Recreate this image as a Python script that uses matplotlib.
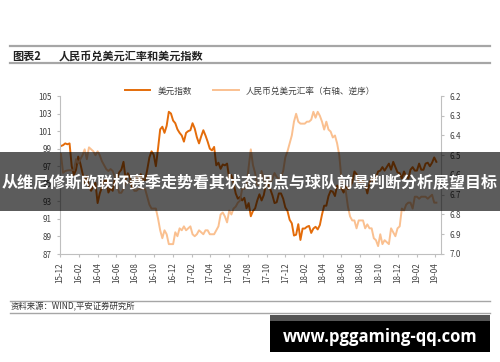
import numpy as np
import pandas as pd
import matplotlib
matplotlib.use("Agg")
import matplotlib.pyplot as plt
from matplotlib.patches import Rectangle
from matplotlib.lines import Line2D

plt.rcParams['font.family'] = ['Noto Sans CJK SC', 'DejaVu Sans']

# weekly series
dxy_2016 = [99.3, 99.4, 99.6, 99.5, 99.6, 97.0, 96.0, 96.6, 98.1, 97.3, 96.2, 95.1, 95.9,
            94.6, 94.2, 94.7, 95.1, 92.8, 93.9, 94.6, 95.3, 95.5, 94.0, 94.5, 94.2, 95.6,
            95.6, 96.3, 96.6, 97.5, 95.5, 96.2, 95.7, 94.5, 95.5, 95.8, 95.3, 96.1, 95.4,
            95.4, 96.6, 98.0, 98.7, 98.3, 97.0, 99.0, 101.2, 101.5, 100.8, 101.6, 103.2,
            103.0, 102.2]
dxy_2017 = [101.9, 101.2, 100.8, 100.5, 99.8, 100.8, 101.0, 101.1, 101.9, 101.3, 100.3,
            99.6, 100.4, 101.1, 100.5, 99.8, 99.0, 98.8, 99.2, 97.1, 97.4, 96.7, 97.2,
            97.1, 97.3, 95.6, 96.0, 95.1, 93.9, 93.3, 93.5, 93.1, 93.4, 92.2, 92.8, 91.3,
            91.9, 92.2, 93.1, 93.8, 93.1, 93.7, 94.9, 94.9, 94.4, 93.7, 92.8, 92.9, 93.9,
            93.9, 93.3, 92.3]
dxy_2018 = [91.9, 90.9, 90.5, 89.1, 89.2, 90.4, 88.6, 89.9, 89.9, 90.1, 90.2, 89.4, 89.9,
            90.1, 89.8, 90.3, 91.5, 92.5, 92.5, 93.6, 94.2, 94.1, 93.6, 94.8, 94.5, 94.5,
            94.0, 94.7, 94.4, 94.6, 95.2, 96.4, 96.1, 95.1, 95.1, 95.4, 94.9, 93.9, 95.1,
            95.6, 95.2, 95.7, 96.4, 96.5, 96.9, 96.5, 96.9, 97.3, 96.6, 97.5, 96.9, 96.3]
dxy_2019 = [96.2, 95.6, 96.4, 95.8, 95.6, 96.6, 96.9, 96.5, 96.5, 97.3, 96.6, 96.6, 97.3,
            97.4, 97.0, 97.4, 98.0, 97.5]

cny_2016 = [6.494, 6.589, 6.580, 6.577, 6.576, 6.576, 6.576, 6.520, 6.540, 6.520, 6.500,
            6.470, 6.520, 6.460, 6.470, 6.480, 6.500, 6.480, 6.500, 6.530, 6.550, 6.570,
            6.580, 6.570, 6.580, 6.610, 6.650, 6.690, 6.690, 6.670, 6.640, 6.640, 6.630,
            6.630, 6.680, 6.680, 6.670, 6.670, 6.670, 6.670, 6.710, 6.750, 6.770, 6.770,
            6.770, 6.820, 6.880, 6.920, 6.880, 6.900, 6.950, 6.950, 6.950]
cny_2017 = [6.890, 6.910, 6.870, 6.880, 6.860, 6.880, 6.870, 6.860, 6.900, 6.910, 6.900,
            6.880, 6.890, 6.900, 6.880, 6.880, 6.900, 6.900, 6.900, 6.880, 6.860, 6.800,
            6.790, 6.810, 6.840, 6.780, 6.800, 6.770, 6.760, 6.740, 6.730, 6.670, 6.670,
            6.660, 6.560, 6.470, 6.550, 6.590, 6.650, 6.650, 6.580, 6.620, 6.650, 6.610,
            6.640, 6.620, 6.590, 6.610, 6.620, 6.610, 6.580, 6.510]
cny_2018 = [6.480, 6.440, 6.400, 6.330, 6.290, 6.330, 6.340, 6.340, 6.340, 6.330, 6.330,
            6.320, 6.280, 6.310, 6.280, 6.300, 6.330, 6.370, 6.330, 6.370, 6.380, 6.410,
            6.400, 6.440, 6.500, 6.620, 6.650, 6.680, 6.760, 6.810, 6.830, 6.830, 6.870,
            6.830, 6.830, 6.830, 6.870, 6.850, 6.870, 6.870, 6.920, 6.930, 6.960, 6.900,
            6.950, 6.930, 6.940, 6.950, 6.870, 6.890, 6.910, 6.870]
cny_2019 = [6.860, 6.770, 6.780, 6.750, 6.740, 6.740, 6.770, 6.710, 6.710, 6.720, 6.710,
            6.710, 6.710, 6.720, 6.710, 6.700, 6.740, 6.740]

dxy = dxy_2016 + dxy_2017 + dxy_2018 + dxy_2019
cny = cny_2016 + cny_2017 + cny_2018 + cny_2019
dates = pd.date_range('2015-12-04', periods=len(dxy), freq='7D')

tick_dates = pd.date_range('2015-12-01', '2019-04-01', freq='2MS')
tick_labels = [d.strftime('%y-%m') for d in tick_dates]

dark = '#E46C0A'
light = '#FAC090'
grey = '#BFBFBF'
txt = '#404040'

fig = plt.figure(figsize=(5, 3.62), dpi=100)

# header
fig.add_artist(Line2D([0.02, 0.98], [1 - 46/362] * 2, color='#A6A6A6', lw=1.6))
fig.add_artist(Line2D([0.02, 0.98], [1 - 63/362] * 2, color='#A6A6A6', lw=1.6))
fig.text(0.024, 1 - 56/362, '图表2', fontsize=8, fontweight='bold', va='center', color='#222222')
fig.text(0.118, 1 - 56/362, '人民币兑美元汇率和美元指数', fontsize=8, fontweight='bold',
         va='center', color='#222222')

ax = fig.add_axes([60/500, 1 - 254/362, 381/500, 158/362])
ax2 = ax.twinx()

l1, = ax.plot(dates, dxy, color=dark, lw=1.4)
l2, = ax2.plot(dates, cny, color=light, lw=1.4)

ax.set_ylim(87, 105)
ax.set_yticks(np.arange(87, 106, 2))
ax2.set_ylim(7.0, 6.2)
ax2.set_yticks(np.arange(6.2, 7.01, 0.1))
ax2.set_yticklabels([f'{v:.1f}' for v in np.arange(6.2, 7.01, 0.1)])
ax.set_xlim(pd.Timestamp('2015-12-01'), pd.Timestamp('2019-04-20'))
ax.set_xticks(tick_dates)
ax.set_xticklabels(tick_labels, rotation=90)

for a in (ax, ax2):
    for s in a.spines.values():
        s.set_color(grey)
    a.spines['top'].set_visible(False)
    a.tick_params(colors=grey, labelcolor=txt, labelsize=5.8, length=2.5, width=0.8)
ax.spines['right'].set_visible(False)
ax2.spines['left'].set_visible(False)
ax2.spines['bottom'].set_visible(False)

fig.legend([l1, l2], ['美元指数', '人民币兑美元汇率（右轴、逆序）'], loc='center',
           bbox_to_anchor=(0.5, 1 - 91/362), ncol=2, frameon=False, fontsize=6.2,
           handlelength=3.0, columnspacing=2.5, labelcolor=txt)

# footer
fig.add_artist(Line2D([0.02, 0.98], [1 - 301/362] * 2, color='#A6A6A6', lw=1.0))
fig.add_artist(Line2D([0.02, 0.98], [1 - 313/362] * 2, color='#A6A6A6', lw=1.0))
fig.text(0.022, 1 - 307/362, '资料来源：WIND,平安证券研究所', fontsize=6, va='center',
         color='#333333')

# overlay banner
fig.add_artist(Rectangle((0, 1 - 211/362), 1, 59/362, transform=fig.transFigure,
                         facecolor='black', alpha=0.64, edgecolor='none', zorder=5))
fig.text(0.5, 1 - 182/362, '从维尼修斯欧联杯赛季走势看其状态拐点与球队前景判断分析展望目标',
         fontsize=11.5, fontweight='bold', color='white', ha='center', va='center', zorder=6)

# watermark
fig.add_artist(Rectangle((270/500, 1 - 352/362), 220/500, 37/362, transform=fig.transFigure,
                         facecolor='black', edgecolor='none', zorder=5))
fig.add_artist(Rectangle((270/500, 1 - 321/362), 220/500, 6/362, transform=fig.transFigure,
                         facecolor='#555555', edgecolor='none', zorder=6))
fig.text(380/500, 1 - 337/362, 'www.pggaming-qq.com', fontsize=12, fontweight='bold',
         family=['Open Sans', 'DejaVu Sans'], color='white', ha='center', va='center', zorder=7)

fig.savefig('out.png', dpi=100)
